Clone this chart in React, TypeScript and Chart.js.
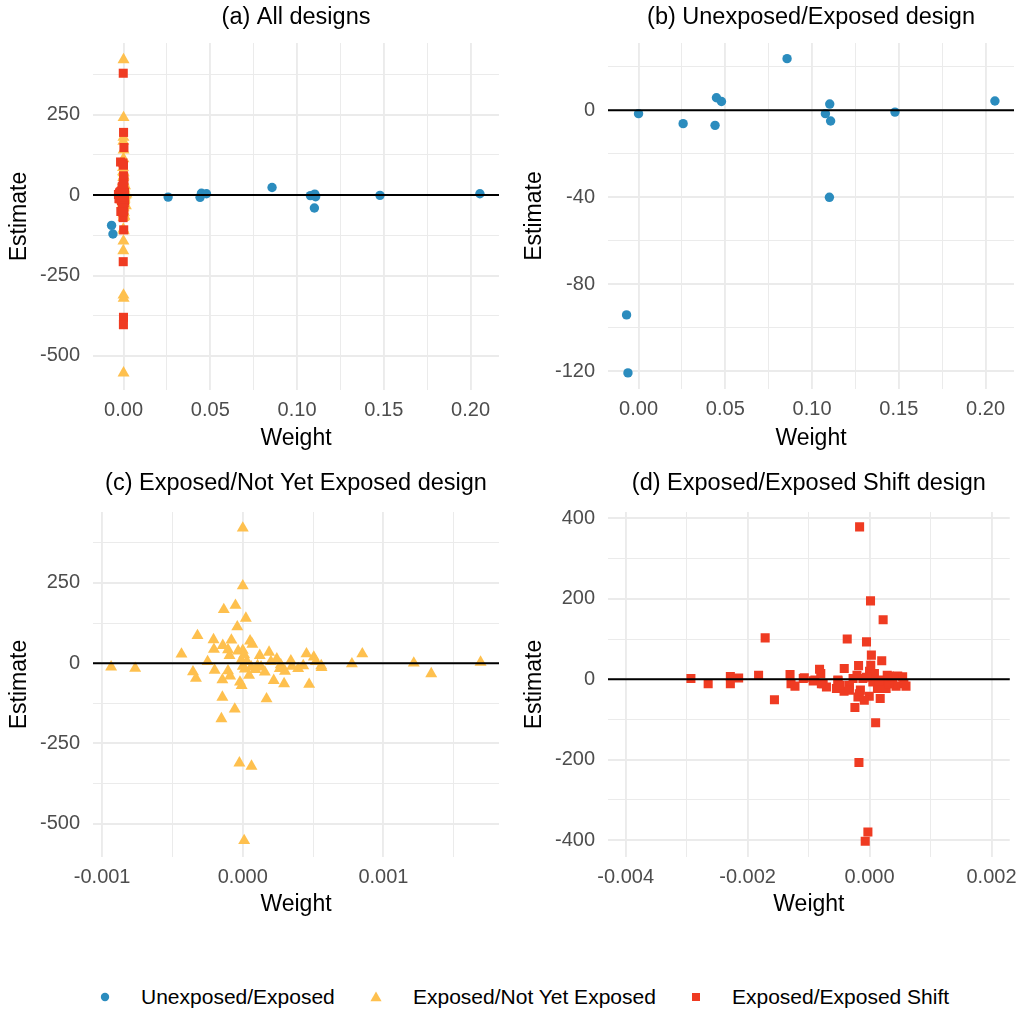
import React, { useEffect, useRef } from "react";
import { Chart, registerables } from "chart.js";

Chart.register(...registerables);

// ---------------- data ----------------
const seriesNames = ["Unexposed/Exposed", "Exposed/Not Yet Exposed", "Exposed/Exposed Shift"];
const panelTitles = [
  "(a) All designs",
  "(b) Unexposed/Exposed design",
  "(c) Exposed/Not Yet Exposed design",
  "(d) Exposed/Exposed Shift design",
];

const unexposedWeight = [-0.0069, -0.0061, 0.0, 0.0257, 0.0441, 0.0449, 0.0478, 0.0856, 0.1077, 0.1102, 0.1107, 0.11, 0.1478, 0.2054];
const unexposedEstimate = [-94.1, -120.8, -1.5, -6.1, -6.9, 5.8, 4.1, 23.8, -1.5, 2.9, -4.9, -40.0, -0.8, 4.3];

const notYetWeight = [
  0.0, 0.0, -0.000135, -0.000052, 0.000022, -0.000039, -0.000322, -0.000208, -0.000081, 0.000052,
  0.000068, -0.000142, -0.000205, -0.000105, -0.000436, -0.000033, 0.0, 0.00001, 0.000121, 0.000187,
  0.000242, -0.00025, -0.000094, 0.000453, 0.000505, 0.000342, 0.000558, 0.000776, 0.00085, 0.001216,
  0.001691, 0.00134, -0.000936, -0.000765, -0.000354, -0.000333, -0.0002, -0.000105, -0.00009, -0.000145,
  -0.00002, -0.000008, 0.000045, 0.00009, 0.000157, 0.00022, 0.000263, 0.000294, 0.000394, 0.000472,
  0.00056, -0.000145, 0.000169, -0.000057, -0.000152, -0.000024, 0.000062, 0.00001, 0.0, 0.000015,
  0.00003, 0.000105, 0.0002, 0.00027, 0.0003, 0.00043, 0.00052, -0.00001, 0.00006, 0.00013, 0.00035,
];
const notYetEstimate = [
  421, 241, 167, 180, 140, 113, 86, 73, 72, 69,
  59, 55, 43, 42, 28, 38, 40, 26, 24, 34,
  13, 5, 24, 29, 19, 7, -8, -2, 29, 0,
  3, -33, -12, -16, -27, -47, -22, -24, -40, -52,
  -59, -70, -38, -20, -28, -54, -17, -64, -17, -66,
  -14, -106, -111, -143, -173, -311, -321, -553, -10, -18,
  5, -8, 5, -5, -25, -8, 5, 10, -12, -12, -10,
];

const shiftWeight = [
  -0.000163, 0.000016, 0.000223, -0.001712, -0.000366, -0.00005, 0.00003, 0.0002, -0.00018, -0.000415,
  -0.00082, -0.00293, -0.002647, -0.002283, -0.002283, -0.002147, -0.00182, -0.00156, -0.001304, -0.001288,
  -0.001223, -0.001087, -0.000924, -0.0008, -0.000761, -0.000707, -0.000516, -0.000543, -0.000418, -0.00024,
  -0.00019, -0.00015, -0.000005, 0.000175, 0.0001, -0.000174, -0.000027, -0.000071, 0.000326, 0.000462,
  0.000543, 0.000598, 0.000435, 0.000272, 0.00008, 0.000054, -0.000109, -0.00027, -0.00033, 0.000217,
  0.00038, -0.00107, -0.000897, -0.00079, -0.00052, -0.00048, -0.000206, -0.00033, -0.000167, 0.00013,
  -0.000086, 0.00029, 0.000563, 0.00032, 0.0, 0.00002, -0.00005, 0.00015,
];
const shiftEstimate = [
  379, 195, 148, 103, 100, 93, 60, 46, 34, 27,
  25, 2, -11, 7, -11, 3, 10, -51, 12, -11,
  -17, 2, -4, 14, -11, -19, -4, -23, -30, -70,
  -44, -27, -42, -48, -108, -207, -380, -403, 8, 8,
  6, -17, -17, -23, 14, -7, 2, 2, -15, -2,
  -11, 4, -2, -11, -2, -15, 10, -27, -36, -23,
  -52, 10, -11, -11, 20, 35, 5, -5,
];

// tick values (major = labelled, minor = unlabelled grid)
const xMajorAB = [0, 0.05, 0.1, 0.15, 0.2];
const xMinorAB = [0.025, 0.075, 0.125, 0.175];
const yMajorAC = [-500, -250, 0, 250];
const yMinorAC = [-375, -125, 125, 375];
const yMajorB = [-120, -80, -40, 0];
const yMinorB = [-100, -60, -20, 20];
const xMajorC = [-0.001, 0, 0.001];
const xMinorC = [-0.0005, 0.0005, 0.0015];
const xMajorD = [-0.004, -0.002, 0, 0.002];
const xMinorD = [-0.003, -0.001, 0.001];
const yMajorD = [-400, -200, 0, 200, 400];
const yMinorD = [-300, -100, 100, 300];

// axis limits
const xLimAB = [-0.0176, 0.2164];
const yLimA = [-606, 473];
const yLimB = [-128.2, 31.0];
const xLimC = [-0.001065, 0.001822];
const yLimC = [-604, 471];
const xLimD = [-0.00429, 0.0023];
const yLimD = [-442, 416];

// ---------------- styles ----------------
const FONT = '"Liberation Sans", Arial, Helvetica, sans-serif';
const COLORS = ["#2B8CBE", "#FEC04E", "#EF3B22"];
const SHAPES = ["circle", "triangle", "rect"];
const RADII = [4.7, 6.9, 6.4];
const GRID = "#EBEBEB";

type Panel = {
  title: string;
  series: number[];
  left: number;
  top: number;
  width: number;
  height: number;
  plotLeft: number;
  plotRight: number;
  plotTop: number;
  plotBottom: number;
  titleY: number;
  yTitleX: number;
  xTitlePad: number;
  xLim: number[];
  yLim: number[];
  xMajor: number[];
  xMinor: number[];
  yMajor: number[];
  yMinor: number[];
  xDigits: number;
};

const seriesX = [unexposedWeight, notYetWeight, shiftWeight];
const seriesY = [unexposedEstimate, notYetEstimate, shiftEstimate];

const panels: Panel[] = [
  {
    title: panelTitles[0], series: [0, 1, 2], left: 0, top: 0, width: 512, height: 450,
    plotLeft: 93, plotRight: 499, plotTop: 43, plotBottom: 390, titleY: 18, yTitleX: 20, xTitlePad: -2,
    xLim: xLimAB, yLim: yLimA, xMajor: xMajorAB, xMinor: xMinorAB, yMajor: yMajorAC, yMinor: yMinorAC, xDigits: 2,
  },
  {
    title: panelTitles[1], series: [0], left: 512, top: 0, width: 513, height: 450,
    plotLeft: 96, plotRight: 502, plotTop: 43, plotBottom: 389, titleY: 17.5, yTitleX: 23, xTitlePad: -2,
    xLim: xLimAB, yLim: yLimB, xMajor: xMajorAB, xMinor: xMinorAB, yMajor: yMajorB, yMinor: yMinorB, xDigits: 2,
  },
  {
    title: panelTitles[2], series: [1], left: 0, top: 468, width: 512, height: 450,
    plotLeft: 93, plotRight: 499, plotTop: 44, plotBottom: 389, titleY: 16, yTitleX: 20, xTitlePad: 0,
    xLim: xLimC, yLim: yLimC, xMajor: xMajorC, xMinor: xMinorC, yMajor: yMajorAC, yMinor: yMinorAC, xDigits: 3,
  },
  {
    title: panelTitles[3], series: [2], left: 512, top: 468, width: 513, height: 450,
    plotLeft: 96, plotRight: 502, plotTop: 44, plotBottom: 389, titleY: 16, yTitleX: 23, xTitlePad: 0,
    xLim: xLimD, yLim: yLimD, xMajor: xMajorD, xMinor: xMinorD, yMajor: yMajorD, yMinor: yMinorD, xDigits: 3,
  },
];

const isIn = (arr: number[], v: number) => arr.some((m) => Math.abs(m - v) < 1e-9);

const decorPlugin = {
  id: "panelDecor",
  afterDatasetsDraw(chart: any) {
    const { ctx, chartArea } = chart;
    const y0 = chart.scales.y.getPixelForValue(0);
    ctx.save();
    ctx.strokeStyle = "#000000";
    ctx.lineWidth = 2;
    ctx.beginPath();
    ctx.moveTo(chartArea.left, y0);
    ctx.lineTo(chartArea.right, y0);
    ctx.stroke();
    ctx.restore();
  },
  afterDraw(chart: any, _args: any, opts: any) {
    const { ctx, chartArea } = chart;
    ctx.save();
    ctx.fillStyle = "#000000";
    ctx.font = `23.5px ${FONT}`;
    ctx.textAlign = "center";
    ctx.textBaseline = "middle";
    ctx.fillText(opts.text, (chartArea.left + chartArea.right) / 2, opts.y);
    ctx.restore();
  },
};

function buildChart(canvas: HTMLCanvasElement, p: Panel) {
  const datasets = p.series.map((s) => ({
    label: seriesNames[s],
    data: seriesX[s].map((x, i) => ({ x, y: seriesY[s][i] })),
    pointStyle: SHAPES[s] as any,
    pointRadius: RADII[s],
    pointHoverRadius: RADII[s],
    pointBackgroundColor: COLORS[s],
    pointBorderWidth: 0,
    borderColor: COLORS[s],
    backgroundColor: COLORS[s],
    showLine: false,
    order: 3 - s,
  }));
  const xAll = [...p.xMajor, ...p.xMinor].sort((a, b) => a - b);
  const yAll = [...p.yMajor, ...p.yMinor].sort((a, b) => a - b);
  return new Chart(canvas, {
    type: "scatter",
    data: { datasets },
    options: {
      responsive: false,
      animation: false,
      events: [],
      layout: { padding: { left: 0, top: p.plotTop, right: p.width - p.plotRight, bottom: 0 } },
      plugins: {
        legend: { display: false },
        tooltip: { enabled: false },
        title: { display: false },
        panelDecor: { text: p.title, y: p.titleY },
      } as any,
      scales: {
        x: {
          type: "linear",
          position: "bottom",
          min: p.xLim[0],
          max: p.xLim[1],
          afterBuildTicks: (s: any) => {
            s.ticks = xAll.map((v) => ({ value: v }));
          },
          afterFit: (s: any) => {
            s.height = p.height - p.plotBottom;
          },
          ticks: {
            autoSkip: false,
            maxRotation: 0,
            padding: 8,
            color: "#4D4D4D",
            font: { family: FONT, size: 20 },
            callback: (v: any) => (isIn(p.xMajor, Number(v)) ? Number(v).toFixed(p.xDigits) : ""),
          },
          grid: {
            drawTicks: false,
            color: GRID,
            lineWidth: (c: any) => (c.tick && isIn(p.xMajor, c.tick.value) ? 1.9 : 1),
          },
          border: { display: false },
          title: {
            display: true,
            text: "Weight",
            color: "#000000",
            font: { family: FONT, size: 23 },
            padding: { top: 0, bottom: p.xTitlePad },
          },
        },
        y: {
          type: "linear",
          position: "left",
          min: p.yLim[0],
          max: p.yLim[1],
          afterBuildTicks: (s: any) => {
            s.ticks = yAll.map((v) => ({ value: v }));
          },
          afterFit: (s: any) => {
            s.width = p.plotLeft;
          },
          ticks: {
            autoSkip: false,
            padding: 13,
            color: "#4D4D4D",
            font: { family: FONT, size: 20 },
            callback: (v: any) => (isIn(p.yMajor, Number(v)) ? String(Number(v)) : ""),
          },
          grid: {
            drawTicks: false,
            color: GRID,
            lineWidth: (c: any) => (c.tick && isIn(p.yMajor, c.tick.value) ? 1.9 : 1),
          },
          border: { display: false },
          title: {
            display: true,
            text: "Estimate",
            color: "#000000",
            font: { family: FONT, size: 23 },
            padding: { top: p.yTitleX - 13.8, bottom: 0 },
          },
        },
      },
    } as any,
    plugins: [decorPlugin as any],
  });
}

function PanelChart({ p }: { p: Panel }) {
  const ref = useRef<HTMLCanvasElement | null>(null);
  useEffect(() => {
    if (!ref.current) return;
    const chart = buildChart(ref.current, p);
    return () => chart.destroy();
  }, [p]);
  return (
    <canvas
      ref={ref}
      width={p.width}
      height={p.height}
      style={{ position: "absolute", left: p.left, top: p.top, width: p.width, height: p.height }}
    />
  );
}

const legendMarkerX = [105, 376, 696];
const legendTextX = [141, 413, 732];

function LegendMarker({ s }: { s: number }) {
  const cx = legendMarkerX[s];
  const cy = 997;
  const size = 14;
  let shape: React.ReactNode;
  if (s === 0) shape = <circle cx={7} cy={7} r={4.2} fill={COLORS[0]} />;
  else if (s === 1) shape = <polygon points="7,1.5 12.6,11.2 1.4,11.2" fill={COLORS[1]} />;
  else shape = <rect x={3} y={3} width={8} height={8} fill={COLORS[2]} />;
  return (
    <svg
      width={size}
      height={size}
      style={{ position: "absolute", left: cx - size / 2, top: cy - size / 2 }}
    >
      {shape}
    </svg>
  );
}

export default function App() {
  return (
    <div
      style={{
        position: "absolute",
        left: 0,
        top: 0,
        width: 1025,
        height: 1012,
        background: "#ffffff",
        overflow: "hidden",
      }}
    >
      {panels.map((p, i) => (
        <PanelChart key={i} p={p} />
      ))}
      {seriesNames.map((name, s) => (
        <React.Fragment key={name}>
          <LegendMarker s={s} />
          <div
            style={{
              position: "absolute",
              left: legendTextX[s],
              top: 985,
              fontFamily: FONT,
              fontSize: 21,
              lineHeight: "24px",
              color: "#000000",
              whiteSpace: "nowrap",
            }}
          >
            {name}
          </div>
        </React.Fragment>
      ))}
    </div>
  );
}
